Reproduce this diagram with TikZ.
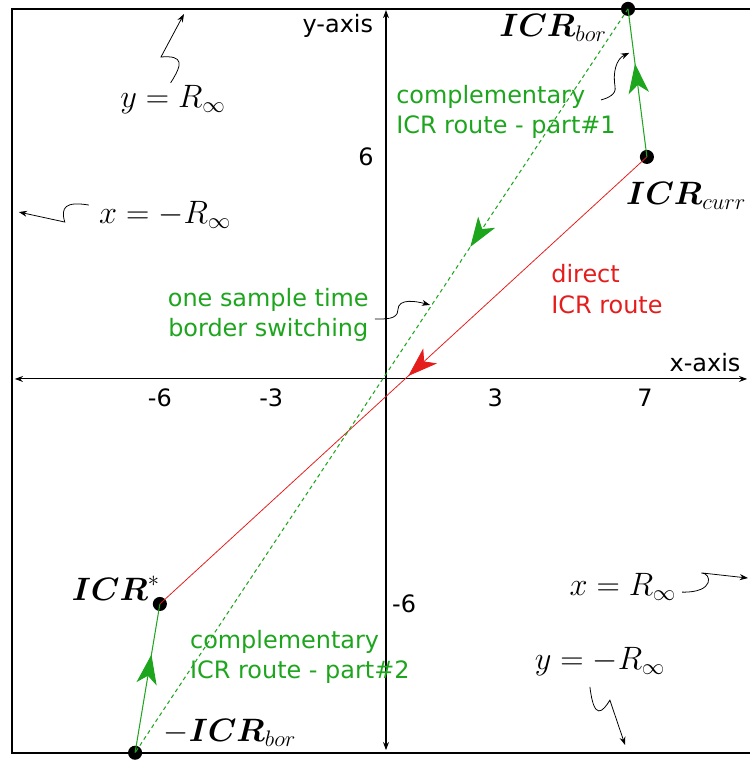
\documentclass[tikz,border=0pt]{standalone}
\usepackage{amsmath}
\usepackage{fontspec}
\newfontfamily\labelfont{DejaVu Sans}
\usetikzlibrary{arrows.meta,decorations.markings}

\definecolor{routegreen}{RGB}{30,165,30}
\definecolor{routered}{RGB}{228,28,28}

\begin{document}
\begin{tikzpicture}[
    >={Stealth[length=2.2mm,width=1.6mm]},
    axis/.style={<->,line width=0.8pt},
    pointer/.style={->,line width=0.6pt},
    lbl/.style={font=\labelfont\fontsize{18.4}{23.3}\selectfont, inner sep=0pt},
    mathlbl/.style={font=\fontsize{23}{27}\selectfont, inner sep=0pt},
    icrlbl/.style={font=\fontsize{24}{28}\selectfont, inner sep=0pt},
    icr/.style={circle,fill=black,inner sep=0pt,minimum size=0.38cm},
    midarrow/.style={postaction={decorate},decoration={markings,
        mark=at position #1 with {\arrow{Stealth[length=8mm,width=5.5mm,inset=2.2mm]}}}}
]
\useasboundingbox (-10.43,-10.35) rectangle (9.81,10.24);

% frame (right side lies outside the page)
\draw[line width=1.2pt] (10.5,10.0) -- (-10.1,10.0) -- (-10.1,-10.1) -- (10.5,-10.1);

% axes
\coordinate (xl) at (-10.03,0);
\coordinate (xr) at (9.76,0);
\coordinate (yt) at (0,9.97);
\coordinate (yb) at (0,-10.03);
\draw[axis] (xl) -- (xr);
\draw[axis] (yb) -- (yt);
\node[lbl] (xaxis) at (8.62,0.43) {x-axis};
\node[lbl] (yaxis) at (-1.30,9.54) {y-axis};

% tick labels
\node[lbl] (xm6) at (-6.11,-0.51) {-6};
\node[lbl] (xm3) at (-3.10,-0.51) {-3};
\node[lbl] (xp3) at (2.95,-0.51) {3};
\node[lbl] (xp7) at (7.00,-0.51) {7};
\node[lbl] (yp6) at (-0.54,6.00) {6};
\node[lbl] (ym6) at (0.49,-6.08) {-6};

% ICR points
\node[icr] (curr) at (7.05,6.0) {};
\node[icr] (bor)  at (6.54,10.0) {};
\node[icr] (star) at (-6.11,-6.08) {};
\node[icr] (mbor) at (-6.78,-10.1) {};

\node[icrlbl] (currlbl) at (8.11,4.95) {$\boldsymbol{ICR}_{curr}$};
\node[icrlbl] (borlbl)  at (4.51,9.49) {$\boldsymbol{ICR}_{bor}$};
\node[icrlbl] (starlbl) at (-7.30,-5.65) {$\boldsymbol{ICR}^{*}$};
\node[icrlbl] (mborlbl) at (-4.22,-9.57) {$-\boldsymbol{ICR}_{bor}$};

% routes
\draw[routered,line width=0.6pt,midarrow=0.49] (curr.center) -- (star.center);
\draw[routegreen,line width=0.8pt,midarrow=0.63] (curr.center) -- (bor.center);
\draw[routegreen,line width=0.8pt,dash pattern=on 3pt off 2.5pt,midarrow=0.32] (bor.center) -- (mbor.center);
\draw[routegreen,line width=0.8pt,midarrow=0.66] (mbor.center) -- (star.center);

% route labels
\node[lbl,text=routegreen,anchor=west,align=left] (part1) at (0.27,7.22) {complementary\\ICR route - part\#1};
\node[lbl,text=routegreen,anchor=west,align=left] (part2) at (-5.30,-7.51) {complementary\\ICR route - part\#2};
\node[lbl,text=routered,anchor=west,align=left] (direct) at (4.46,2.43) {direct\\ICR route};
\node[lbl,text=routegreen,anchor=east,align=center] (switch) at (-0.46,1.73) {one sample time\\border switching};

% border labels
\node[mathlbl] (yinf)  at (-5.76,7.54) {$y=R_\infty$};
\node[mathlbl] (xminf) at (-5.97,4.43) {$x=-R_\infty$};
\node[mathlbl] (xinf)  at (6.40,-5.62) {$x=R_\infty$};
\node[mathlbl] (yminf) at (5.78,-7.65) {$y=-R_\infty$};

% squiggly pointers
\coordinate (yinfa) at (-5.82,8.0);
\coordinate (yinfk) at (-6.08,8.70);
\coordinate (yinft) at (-5.46,9.86);
\draw[pointer] (yinfa) .. controls (-5.50,8.50) and (-5.45,8.75) .. (yinfk) -- (yinft);

\coordinate (xminfa) at (-8.03,4.70);
\coordinate (xminfk) at (-8.68,4.24);
\coordinate (xminft) at (-9.92,4.51);
\draw[pointer] (xminfa) .. controls (-8.65,4.80) and (-8.80,4.65) .. (xminfk) -- (xminft);

\coordinate (xinfa) at (8.00,-5.76);
\coordinate (xinfk) at (8.52,-5.24);
\coordinate (xinft) at (9.78,-5.38);
\draw[pointer] (xinfa) .. controls (8.90,-5.78) and (8.80,-5.24) .. (xinfk) -- (xinft);

\coordinate (yminfa) at (5.51,-8.32);
\coordinate (yminfk) at (6.05,-8.68);
\coordinate (yminft) at (6.46,-9.89);
\draw[pointer] (yminfa) .. controls (5.62,-9.25) and (5.85,-9.00) .. (yminfk) -- (yminft);

\coordinate (part1a) at (5.81,7.54);
\coordinate (part1m) at (6.19,7.89);
\coordinate (part1t) at (6.57,8.81);
\draw[pointer] (part1a) to[out=15,in=-80] (part1m) to[out=100,in=-155] (part1t);

\coordinate (switcha) at (-0.30,1.62);
\coordinate (switchm) at (0.32,1.86);
\coordinate (switcht) at (1.19,2.00);
\draw[pointer] (switcha) to[out=0,in=-90] (switchm) to[out=90,in=165] (switcht);

\end{tikzpicture}
\end{document}
